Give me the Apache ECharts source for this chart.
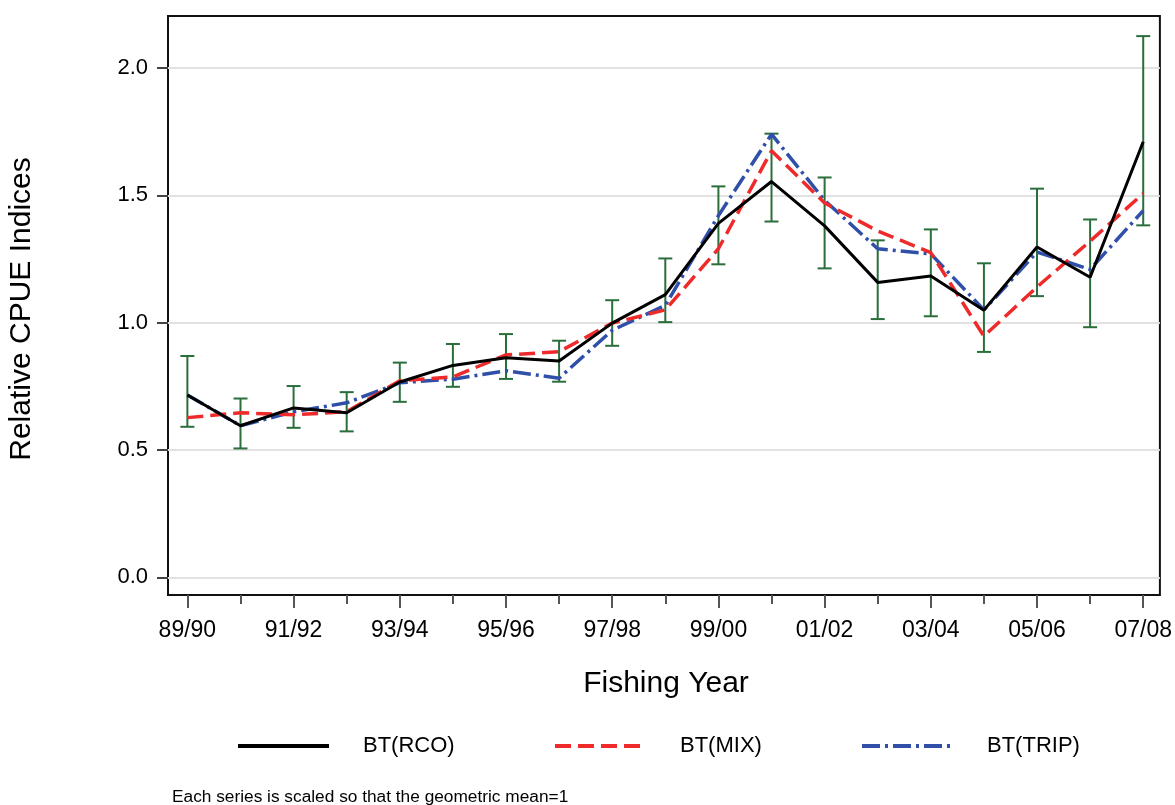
<!DOCTYPE html>
<html>
<head>
<meta charset="utf-8">
<title>Relative CPUE Indices</title>
<script src="https://cdn.jsdelivr.net/npm/echarts@6/dist/echarts.min.js"></script>
<style>
  html, body { margin: 0; padding: 0; background: #ffffff; }
  #chart { width: 1175px; height: 805px; }
</style>
</head>
<body>
<div id="chart"></div>
<script>
// Fishing years (categories)
const years = ['89/90','90/91','91/92','92/93','93/94','94/95','95/96','96/97','97/98','98/99',
               '99/00','00/01','01/02','02/03','03/04','04/05','05/06','06/07','07/08'];

// Standardised indices, each scaled to geometric mean = 1
const rco  = [0.716,0.595,0.665,0.646,0.767,0.832,0.862,0.849,0.998,1.110,1.390,1.554,1.380,1.158,1.183,1.049,1.297,1.178,1.710];
const mix  = [0.627,0.646,0.638,0.650,0.772,0.787,0.873,0.886,0.998,1.050,1.290,1.675,1.470,1.360,1.275,0.947,1.140,1.320,1.507];
const trip = [0.716,0.595,0.650,0.685,0.764,0.778,0.811,0.782,0.970,1.068,1.420,1.740,1.480,1.290,1.270,1.050,1.277,1.209,1.440];

// Confidence interval for BT(RCO)
const ciLow  = [0.591,0.506,0.587,0.573,0.689,0.748,0.779,0.768,0.909,1.002,1.229,1.397,1.213,1.014,1.025,0.885,1.104,0.982,1.382];
const ciHigh = [0.869,0.702,0.751,0.727,0.843,0.916,0.955,0.929,1.088,1.252,1.535,1.742,1.570,1.323,1.366,1.233,1.526,1.405,2.125];

// Axis tick values
const yTicks = [0, 0.5, 1.0, 1.5, 2.0];
const xLabelIdx = years.map((_, i) => i).filter(i => i % 2 === 0);
const xMinorIdx = years.map((_, i) => i).filter(i => i % 2 === 1);

const FONT = '"Liberation Sans", Arial, sans-serif';
const toPairs = arr => arr.map((v, i) => [i, v]);

const chart = echarts.init(document.getElementById('chart'), null, { renderer: 'canvas' });

const xMin = -0.365, xMax = 18.314;

function legendFor(name, left) {
  return {
    data: [name],
    left: left,
    top: 735,
    padding: 0,
    itemWidth: 91,
    itemHeight: 22,
    selectedMode: false,
    itemStyle: { opacity: 0 },
    lineStyle: { width: 4 },
    textStyle: { fontFamily: FONT, fontSize: 22, color: '#000', padding: [0, 0, 0, 29] }
  };
}

const option = {
  animation: false,
  backgroundColor: '#ffffff',
  grid: {
    left: 168, right: 13, top: 16, bottom: 210,
    show: true, borderColor: '#111', borderWidth: 2, backgroundColor: 'transparent'
  },
  xAxis: [
    {
      type: 'value', min: xMin, max: xMax,
      axisLine: { show: false, onZero: false },
      splitLine: { show: false },
      axisTick: { show: true, length: 13, customValues: xLabelIdx, lineStyle: { color: '#555', width: 2 } },
      axisLabel: {
        show: true, customValues: xLabelIdx, margin: 24,
        formatter: v => years[Math.round(v)] || '',
        fontFamily: FONT, fontSize: 23, color: '#000'
      }
    },
    {
      type: 'value', min: xMin, max: xMax, position: 'bottom',
      axisLine: { show: false, onZero: false },
      splitLine: { show: false },
      axisTick: { show: true, length: 9, customValues: xMinorIdx, lineStyle: { color: '#555', width: 2 } },
      axisLabel: { show: false }
    }
  ],
  yAxis: {
    type: 'value', min: -0.0695, max: 2.204,
    axisLine: { show: false, onZero: false },
    axisTick: { show: true, length: 11, customValues: yTicks, lineStyle: { color: '#444', width: 2 } },
    axisLabel: {
      customValues: yTicks, margin: 20,
      formatter: v => v.toFixed(1),
      fontFamily: FONT, fontSize: 22, color: '#000'
    },
    splitLine: { show: true, lineStyle: { color: '#e2e2e2', width: 2 } }
  },
  legend: [
    legendFor('BT(RCO)', 236),
    legendFor('BT(MIX)', 553),
    legendFor('BT(TRIP)', 860)
  ],
  graphic: [
    {
      type: 'text', x: 666, y: 684,
      style: { text: 'Fishing Year', font: '30px ' + FONT, fill: '#000', align: 'center', verticalAlign: 'middle' }
    },
    {
      type: 'text', x: 22, y: 309, rotation: Math.PI / 2,
      style: { text: 'Relative CPUE Indices', font: '30px ' + FONT, fill: '#000', align: 'center', verticalAlign: 'middle' }
    },
    {
      type: 'text', x: 172, y: 797,
      style: { text: 'Each series is scaled so that the geometric mean=1', font: '17.3px ' + FONT, fill: '#000', align: 'left', verticalAlign: 'middle' }
    }
  ],
  series: [
    {
      name: 'CI',
      type: 'custom',
      z: 1,
      data: years.map((_, i) => [i, ciLow[i], ciHigh[i]]),
      encode: { x: 0, y: [1, 2] },
      renderItem: function (params, api) {
        const x = api.value(0);
        const lo = api.coord([x, api.value(1)]);
        const hi = api.coord([x, api.value(2)]);
        const hw = 7;
        const style = { stroke: '#2a6e3c', lineWidth: 2 };
        return {
          type: 'group',
          children: [
            { type: 'line', shape: { x1: lo[0], y1: lo[1], x2: hi[0], y2: hi[1] }, style: style },
            { type: 'line', shape: { x1: hi[0] - hw, y1: hi[1], x2: hi[0] + hw, y2: hi[1] }, style: style },
            { type: 'line', shape: { x1: lo[0] - hw, y1: lo[1], x2: lo[0] + hw, y2: lo[1] }, style: style }
          ]
        };
      }
    },
    {
      name: 'BT(TRIP)', type: 'line', z: 3, data: toPairs(trip),
      symbol: 'none', showSymbol: false,
      color: '#2f4fa8',
      lineStyle: { color: '#2f4fa8', width: 3.5, type: [18, 5, 3, 5] }
    },
    {
      name: 'BT(MIX)', type: 'line', z: 4, data: toPairs(mix),
      symbol: 'none', showSymbol: false,
      color: '#ee2a2a',
      lineStyle: { color: '#ee2a2a', width: 3.5, type: [16, 7] }
    },
    {
      name: 'BT(RCO)', type: 'line', z: 5, data: toPairs(rco),
      symbol: 'none', showSymbol: false,
      color: '#000000',
      lineStyle: { color: '#000000', width: 3 }
    }
  ]
};

chart.setOption(option);
</script>
</body>
</html>
